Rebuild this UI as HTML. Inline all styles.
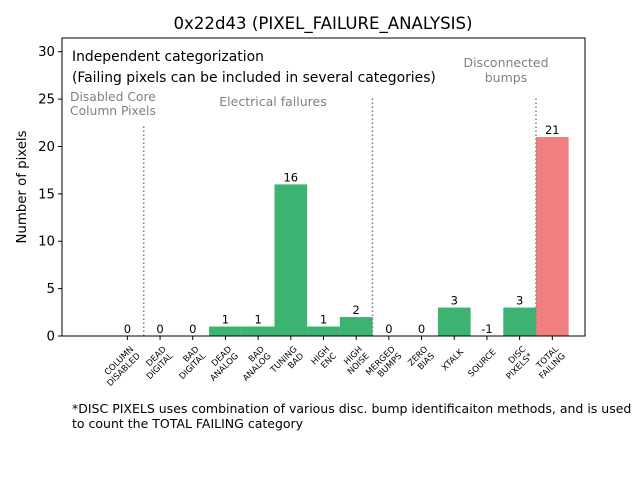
<!DOCTYPE html>
<html><head><meta charset="utf-8"><style>body{margin:0;background:#fff}svg{display:block;font-family:"DejaVu Sans","Liberation Sans",sans-serif}</style></head>
<body>
<svg id="chart" width="640" height="480" viewBox="0 0 640 480" xmlns="http://www.w3.org/2000/svg">
<rect width="640" height="480" fill="#fff"/>
<text x="323" y="29" font-size="16.6" text-anchor="middle">0x22d43 (PIXEL_FAILURE_ANALYSIS)</text>
<text transform="translate(26,187) rotate(-90)" font-size="13.3" text-anchor="middle">Number of pixels</text>
<g id="marks"></g>
<rect x="62" y="38" width="523" height="298" fill="none" stroke="#000" stroke-width="1"/>
<text x="72" y="61" font-size="13.9">Independent categorization</text>
<text x="72" y="82" font-size="13.9">(Failing pixels can be included in several categories)</text>
<text font-size="12.3" fill="#808080"><tspan x="70" y="101">Disabled Core</tspan><tspan x="70" y="115">Column Pixels</tspan></text>
<text x="273" y="106" font-size="12.5" fill="#808080" text-anchor="middle">Electrical failures</text>
<text font-size="12.5" fill="#808080" text-anchor="middle"><tspan x="506" y="67">Disconnected</tspan><tspan x="506" y="82">bumps</tspan></text>
<text font-size="12.5"><tspan x="72" y="413">*DISC PIXELS uses combination of various disc. bump identificaiton methods, and is used</tspan><tspan x="72" y="428">to count the TOTAL FAILING category</tspan></text>
</svg>
<script>
const categories = [["COLUMN","DISABLED"],["DEAD","DIGITAL"],["BAD","DIGITAL"],["DEAD","ANALOG"],["BAD","ANALOG"],["TUNING","BAD"],["HIGH","ENC"],["HIGH","NOISE"],["MERGED","BUMPS"],["ZERO","BIAS"],["XTALK"],["SOURCE"],["DISC","PIXELS*"],["TOTAL","FAILING"]];
const values = [0,0,0,1,1,16,1,2,0,0,3,-1,3,21];
const yTicks = [0,5,10,15,20,25,30];
const separators = [0.5,7.5,12.5];
const separatorTops = [22.3,25.2,25.2];
const NS = "http://www.w3.org/2000/svg";
const L=62,R=585,T=38,B=336,XMIN=-2,XMAX=14,YMIN=0,YMAX=31.45;
const xs = i => L+(i-XMIN)*(R-L)/(XMAX-XMIN);
const ys = v => B-(Math.max(v,YMIN)-YMIN)*(B-T)/(YMAX-YMIN);
const bw = (R-L)/(XMAX-XMIN);
const g = document.getElementById('marks');
function mk(tag, attrs){const e=document.createElementNS(NS,tag);for(const k in attrs)e.setAttribute(k,attrs[k]);g.appendChild(e);return e;}
values.forEach((v,i)=>{
  const y0=ys(0), y1=ys(v);
  const r=mk('rect',{x:xs(i)-bw/2,y:Math.min(y0,y1),width:bw,height:Math.abs(y0-y1),fill:i===values.length-1?'#f08080':'#3cb371'});
  
  
  const t=mk('text',{x:xs(i),y:ys(Math.max(v,0))-3,'font-size':'11.5','text-anchor':'middle'});
  t.textContent=String(v);
  
  
  mk('line',{x1:xs(i),x2:xs(i),y1:B,y2:B+4,stroke:'#000'});
  const lab=mk('text',{transform:`translate(${xs(i)+8},${B+15}) rotate(-45)`,'font-size':'8.5','text-anchor':'end'});
  
  
  categories[i].forEach((s,j)=>{const ts=document.createElementNS(NS,'tspan');ts.setAttribute('x',0);ts.setAttribute('dy',j===0?(categories[i].length===2?-2:2):9.5);ts.textContent=s;lab.appendChild(ts);});
});
separators.forEach((s,i)=>{
  const l=mk('line',{x1:xs(s),x2:xs(s),y1:B,y2:ys(separatorTops[i]),stroke:'#808080','stroke-width':'1.5','stroke-dasharray':'1.5,2.5'});
  
  
});
yTicks.forEach(v=>{
  mk('line',{x1:L-4,x2:L,y1:ys(v),y2:ys(v),stroke:'#000'});
  const t=mk('text',{x:L-7,y:ys(v)+4.5,'font-size':'13.3','text-anchor':'end'});
  t.textContent=v;
  
  
});
</script>
</body></html>
